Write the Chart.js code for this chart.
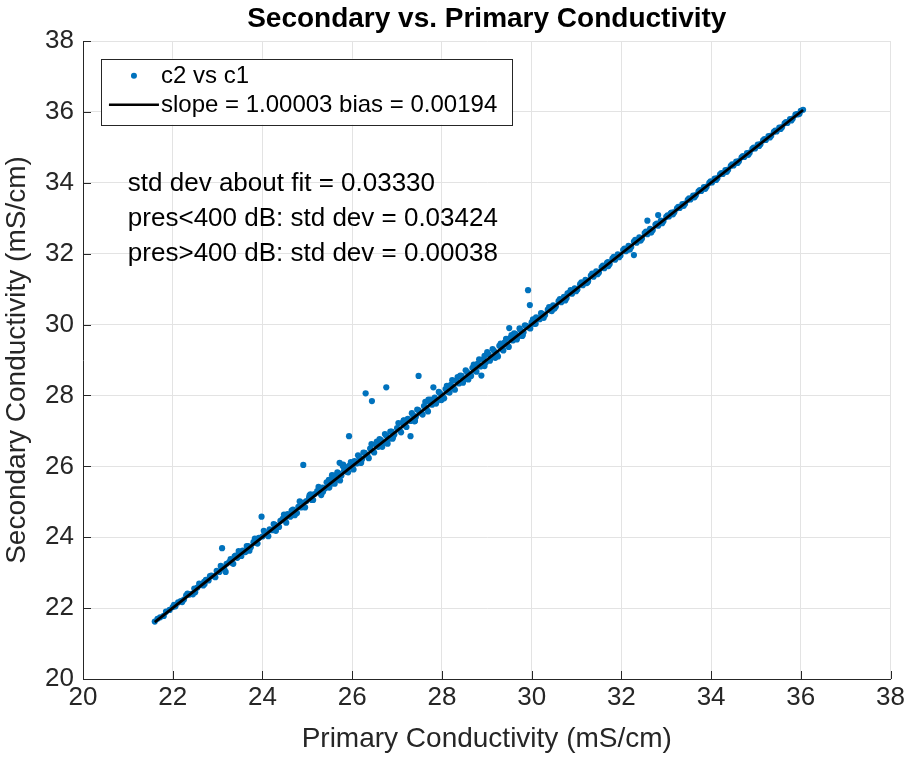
<!DOCTYPE html>
<html>
  <head>
    <script src="https://cdn.jsdelivr.net/npm/chart.js"></script>
    <style>
      body { margin: 0; background: #fff; }
      #wrap { width: 908px; height: 757px; }
    </style>
  </head>
  <body>
    <div id="wrap">
      <canvas id="Chart" width="908" height="757"></canvas>
    </div>
    <script>
      const chartTitle = "Secondary vs. Primary Conductivity";
      const xTitle = "Primary Conductivity (mS/cm)";
      const yTitle = "Secondary Conductivity (mS/cm)";
      const axisMin = 20;
      const axisMax = 38;
      const tickStep = 2;

      const slope = 1.00003;
      const bias = 0.00194;
      const notes = [
        "std dev about fit = 0.03330",
        "pres<400 dB: std dev = 0.03424",
        "pres>400 dB: std dev = 0.00038",
      ];
      const legendLabels = ["c2 vs c1", "slope = 1.00003 bias = 0.00194"];

      // primary conductivity (x)
      const c1 = [
        21.60, 21.66, 21.72, 21.80, 21.85, 21.93, 22.00, 22.06, 22.12, 22.18,
        22.25, 22.30, 22.36, 22.42, 22.48, 22.50, 22.55, 22.62, 22.68, 22.74,
        22.80, 22.86, 22.92, 22.98, 23.04, 23.10, 23.10, 23.18, 23.20, 23.26,
        23.32, 23.38, 23.44, 23.50, 23.56, 23.62, 23.68, 23.74, 23.80, 23.86,
        23.92, 23.98, 24.00, 24.05, 24.10, 24.16, 24.22, 24.28, 24.34, 24.40,
        24.45, 24.50, 24.56, 24.62, 24.68, 24.74, 24.80, 24.86, 24.91, 24.92,
        24.98, 25.04, 25.10, 25.16, 25.22, 25.28, 25.34, 25.40, 25.46, 25.52,
        25.58, 25.64, 25.70, 25.72, 25.76, 25.80, 25.82, 25.88, 25.93, 25.94,
        26.00, 26.05, 26.10, 26.16, 26.22, 26.28, 26.30, 26.34, 26.40, 26.44,
        26.46, 26.52, 26.58, 26.64, 26.70, 26.76, 26.76, 26.82, 26.88, 26.94,
        27.00, 27.06, 27.12, 27.18, 27.24, 27.30, 27.30, 27.36, 27.42, 27.48,
        27.48, 27.54, 27.60, 27.66, 27.72, 27.78, 27.81, 27.84, 27.90, 27.96,
        28.02, 28.08, 28.14, 28.20, 28.26, 28.32, 28.38, 28.44, 28.50, 28.56,
        28.62, 28.68, 28.74, 28.80, 28.86, 28.88, 28.92, 28.98, 29.04, 29.10,
        29.16, 29.22, 29.28, 29.34, 29.40, 29.46, 29.50, 29.52, 29.58, 29.64,
        29.70, 29.76, 29.82, 29.88, 29.92, 29.94, 29.96, 30.00, 30.06, 30.12,
        30.18, 30.24, 30.30, 30.36, 30.42, 30.48, 30.54, 30.60, 30.66, 30.72,
        30.78, 30.84, 30.90, 30.96, 31.02, 31.08, 31.14, 31.20, 31.26, 31.32,
        31.38, 31.44, 31.50, 31.56, 31.62, 31.68, 31.74, 31.80, 31.86, 31.92,
        31.98, 32.04, 32.10, 32.16, 32.22, 32.28, 32.28, 32.34, 32.40, 32.46,
        32.52, 32.58, 32.58, 32.64, 32.70, 32.76, 32.82, 32.82, 32.88, 32.94,
        33.00, 33.06, 33.12, 33.18, 33.24, 33.30, 33.36, 33.42, 33.48, 33.54,
        33.60, 33.66, 33.72, 33.78, 33.84, 33.90, 33.96, 34.02, 34.08, 34.14,
        34.20, 34.26, 34.32, 34.38, 34.44, 34.50, 34.56, 34.62, 34.68, 34.74,
        34.80, 34.86, 34.92, 34.98, 35.04, 35.10, 35.16, 35.22, 35.28, 35.34,
        35.40, 35.46, 35.52, 35.58, 35.64, 35.70, 35.76, 35.82, 35.88, 35.94,
        36.00, 36.05,
        24.30, 24.72, 25.05, 25.35, 25.60, 25.85, 26.20, 26.55, 26.90, 27.15,
        27.40, 27.70, 28.05, 28.35, 28.65, 28.95, 29.25, 29.55, 29.80, 30.10,
        30.45, 30.80, 31.25, 31.70, 32.15, 32.66, 33.10, 23.40, 22.70, 25.48,
        22.03, 22.21, 22.33, 22.45, 22.59, 22.71, 22.83, 22.95, 23.07, 23.15,
        23.29, 23.35, 23.47, 23.53, 23.65, 23.71, 23.83, 23.89, 24.03, 24.13,
        24.25, 24.37, 24.48, 24.53, 24.65, 24.77, 24.83, 24.95, 25.07, 25.13,
        25.25, 25.31, 25.43, 25.49, 25.55, 25.61, 25.67, 25.73, 25.79, 25.91,
        25.97, 26.03, 26.13, 26.19, 26.25, 26.37, 26.43, 26.49, 26.61, 26.67,
        26.73, 26.79, 26.85, 26.91, 27.03, 27.09, 27.15, 27.21, 27.33, 27.39,
        27.45, 27.57, 27.63, 27.69, 27.75, 27.87, 27.93, 27.99, 28.11, 28.17,
        28.23, 28.29, 28.41, 28.47, 28.53, 28.59, 28.71, 28.77, 28.83, 28.95,
        29.01, 29.07, 29.13, 29.19, 29.31, 29.37, 29.43, 29.49, 29.61, 29.67,
        29.73, 29.79, 29.85, 29.97, 30.03, 30.09, 30.21, 30.27, 30.39, 30.51,
        30.63, 30.75, 30.87, 30.99, 31.11, 31.23, 31.35, 31.47, 31.59, 31.71,
        31.83, 31.95, 32.07, 32.19, 32.31, 32.43, 32.55, 32.67, 32.79, 32.91,
        33.03, 33.15, 33.27, 33.39, 33.51, 33.63, 33.75, 33.87, 33.99, 34.11,
        34.23, 34.35, 34.47, 34.59, 34.71, 34.83, 34.95, 35.07, 35.19, 35.31,
        35.43, 35.55, 35.67, 35.79, 35.91, 35.97,
      ];

      // secondary conductivity (y)
      const c2 = [
        21.62, 21.70, 21.74, 21.78, 21.90, 21.95, 22.03, 22.05, 22.16, 22.20,
        22.24, 22.36, 22.38, 22.40, 22.55, 22.45, 22.58, 22.66, 22.64, 22.80,
        22.78, 22.92, 22.90, 23.05, 23.02, 23.69, 23.15, 23.02, 23.25, 23.30,
        23.28, 23.46, 23.42, 23.55, 23.62, 23.58, 23.75, 23.72, 23.86, 23.84,
        23.98, 24.58, 24.02, 24.12, 24.08, 24.22, 24.20, 24.35, 24.30, 24.46,
        24.52, 24.48, 24.65, 24.58, 24.78, 24.70, 24.86, 24.84, 26.04, 24.98,
        25.02, 25.12, 25.05, 25.22, 25.30, 25.25, 25.40, 25.38, 25.55, 25.50,
        25.66, 25.62, 25.80, 26.10, 25.74, 26.05, 25.88, 25.85, 26.85, 26.02,
        25.98, 26.15, 26.08, 26.25, 26.20, 26.38, 28.06, 26.30, 26.50, 27.84,
        26.44, 26.62, 26.55, 26.74, 26.66, 28.23, 26.86, 26.78, 26.98, 26.90,
        27.08, 27.02, 27.22, 27.15, 27.34, 26.85, 27.28, 27.44, 27.40, 28.55,
        27.58, 27.50, 27.70, 27.62, 27.82, 27.74, 28.23, 27.94, 27.86, 28.06,
        27.98, 28.18, 28.10, 28.30, 28.22, 28.42, 28.34, 28.55, 28.46, 28.66,
        28.58, 28.78, 28.70, 28.90, 28.82, 28.56, 29.02, 28.94, 29.16, 29.06,
        29.26, 29.18, 29.40, 29.30, 29.50, 29.42, 29.90, 29.62, 29.55, 29.74,
        29.66, 29.84, 29.78, 29.96, 30.97, 29.92, 30.55, 30.06, 30.02, 30.18,
        30.15, 30.30, 30.27, 30.42, 30.40, 30.54, 30.51, 30.66, 30.63, 30.78,
        30.75, 30.90, 30.87, 31.02, 30.99, 31.14, 31.11, 31.26, 31.23, 31.38,
        31.35, 31.50, 31.47, 31.62, 31.59, 31.74, 31.71, 31.86, 31.83, 31.98,
        31.95, 32.10, 32.07, 32.22, 32.19, 31.96, 32.34, 32.31, 32.46, 32.43,
        32.58, 32.93, 32.55, 32.70, 32.67, 32.82, 33.09, 32.79, 32.93, 32.92,
        33.04, 33.05, 33.16, 33.17, 33.28, 33.29, 33.40, 33.41, 33.52, 33.53,
        33.64, 33.65, 33.76, 33.77, 33.88, 33.89, 34.00, 34.01, 34.12, 34.13,
        34.24, 34.25, 34.36, 34.37, 34.48, 34.49, 34.60, 34.61, 34.72, 34.73,
        34.84, 34.85, 34.96, 34.97, 35.08, 35.09, 35.20, 35.21, 35.32, 35.33,
        35.44, 35.45, 35.56, 35.57, 35.68, 35.69, 35.80, 35.81, 35.92, 35.93,
        36.03, 36.06,
        24.18, 24.62, 25.18, 25.28, 25.74, 25.98, 26.10, 26.70, 26.78, 27.30,
        27.28, 27.88, 27.92, 28.52, 28.55, 29.12, 29.10, 29.70, 29.70, 30.20,
        30.38, 30.88, 31.20, 31.76, 32.12, 32.60, 33.14, 23.48, 22.74, 25.62,
        22.09, 22.17, 22.41, 22.39, 22.69, 22.68, 22.90, 22.87, 23.19, 23.10,
        23.38, 23.25, 23.61, 23.47, 23.75, 23.62, 23.96, 23.82, 24.18, 24.03,
        24.37, 24.29, 24.64, 24.41, 24.75, 24.68, 25.01, 24.84, 25.21, 25.05,
        25.42, 25.19, 25.55, 25.40, 25.75, 25.51, 25.83, 25.60, 26.01, 25.83,
        26.12, 25.91, 26.31, 26.10, 26.39, 26.23, 26.63, 26.39, 26.77, 26.55,
        26.91, 26.64, 26.98, 26.82, 27.22, 26.96, 27.29, 27.11, 27.50, 27.27,
        27.60, 27.46, 27.82, 27.55, 27.88, 27.77, 28.10, 27.87, 28.27, 28.08,
        28.43, 28.16, 28.56, 28.36, 28.71, 28.45, 28.87, 28.67, 29.02, 28.83,
        29.22, 28.98, 29.31, 29.06, 29.46, 29.27, 29.60, 29.37, 29.75, 29.58,
        29.89, 29.68, 29.98, 29.89, 30.15, 30.02, 30.32, 30.19, 30.49, 30.45,
        30.72, 30.68, 30.97, 30.94, 31.19, 31.17, 31.44, 31.42, 31.66, 31.65,
        31.91, 31.90, 32.14, 32.12, 32.39, 32.37, 32.62, 32.61, 32.85, 32.86,
        33.08, 33.11, 33.32, 33.35, 33.56, 33.59, 33.79, 33.83, 34.04, 34.08,
        34.27, 34.31, 34.52, 34.56, 34.75, 34.79, 34.99, 35.04, 35.23, 35.28,
        35.47, 35.52, 35.71, 35.76, 35.94, 35.95,
      ];

      const points = c1.map((x, i) => ({ x: x, y: c2[i] }));
      const fitX = [Math.min(...c1), Math.max(...c1)];
      const fitLine = fitX.map((x) => ({ x: x, y: slope * x + bias }));

      const FONT = "'Liberation Sans', Arial, Helvetica, sans-serif";
      const BLUE = "#0072BD";
      const AXIS = "#262626";

      const extras = {
        id: "extras",
        afterDraw(chart) {
          const ctx = chart.ctx;
          const xs = chart.scales.x;
          const ys = chart.scales.y;
          const area = chart.chartArea;
          ctx.save();

          // inward tick marks (MATLAB style)
          ctx.strokeStyle = AXIS;
          ctx.lineWidth = 1;
          ctx.beginPath();
          for (let v = axisMin; v <= axisMax; v += tickStep) {
            const px = Math.round(xs.getPixelForValue(v)) + 0.5;
            ctx.moveTo(px, area.bottom);
            ctx.lineTo(px, area.bottom - 8);
            const py = Math.round(ys.getPixelForValue(v)) + 0.5;
            ctx.moveTo(area.left, py);
            ctx.lineTo(area.left + 8, py);
          }
          ctx.stroke();

          // title
          ctx.fillStyle = "#000";
          ctx.font = "bold 28px " + FONT;
          ctx.textAlign = "center";
          ctx.textBaseline = "middle";
          ctx.fillText(chartTitle, (area.left + area.right) / 2, 19);

          // legend box
          const lx = xs.getPixelForValue(20.4);
          const ly = ys.getPixelForValue(37.5);
          const lw = 411;
          const lh = 66;
          ctx.fillStyle = "#fff";
          ctx.fillRect(lx, ly, lw, lh);
          ctx.strokeStyle = AXIS;
          ctx.strokeRect(Math.round(lx) + 0.5, Math.round(ly) + 0.5, lw, lh);

          ctx.fillStyle = BLUE;
          ctx.beginPath();
          ctx.arc(lx + 33, ly + 17, 3, 0, Math.PI * 2);
          ctx.fill();
          ctx.strokeStyle = "#000";
          ctx.lineWidth = 2.5;
          ctx.beginPath();
          ctx.moveTo(lx + 8, ly + 46);
          ctx.lineTo(lx + 58, ly + 46);
          ctx.stroke();

          ctx.fillStyle = "#000";
          ctx.font = "24px " + FONT;
          ctx.textAlign = "left";
          ctx.fillText(legendLabels[0], lx + 60, ly + 18);
          ctx.fillText(legendLabels[1], lx + 60, ly + 47);

          // statistics notes
          ctx.font = "26px " + FONT;
          const nx = xs.getPixelForValue(21);
          notes.forEach((t, i) => {
            ctx.fillText(t, nx, ys.getPixelForValue(34) + i * 35 + 1);
          });
          ctx.restore();
        },
      };

      const axisCommon = {
        type: "linear",
        min: axisMin,
        max: axisMax,
        grid: { color: "#e3e3e3", drawTicks: false },
        border: { color: AXIS, width: 1 },
      };

      new Chart(document.getElementById("Chart"), {
        type: "scatter",
        data: {
          datasets: [
            {
              label: legendLabels[1],
              data: fitLine,
              type: "line",
              showLine: true,
              borderColor: "#000",
              borderWidth: 2.8,
              pointRadius: 0,
              order: 0,
            },
            {
              label: legendLabels[0],
              data: points,
              backgroundColor: BLUE,
              borderWidth: 0,
              pointRadius: 3.1,
              order: 1,
            },
          ],
        },
        options: {
          responsive: false,
          animation: false,
          layout: { padding: { top: 41, right: 16, left: 0, bottom: 0 } },
          plugins: {
            legend: { display: false },
            title: { display: false },
            tooltip: { enabled: false },
          },
          scales: {
            x: {
              ...axisCommon,
              position: "bottom",
              ticks: {
                stepSize: tickStep,
                padding: 3,
                color: AXIS,
                font: { family: FONT, size: 26 },
              },
              title: {
                display: true,
                text: xTitle,
                color: AXIS,
                padding: { top: 0, bottom: 1 },
                font: { family: FONT, size: 28 },
              },
              afterFit: (s) => { s.height = 78; },
            },
            y: {
              ...axisCommon,
              position: "left",
              ticks: {
                stepSize: tickStep,
                padding: 9,
                color: AXIS,
                font: { family: FONT, size: 26 },
              },
              title: {
                display: true,
                text: yTitle,
                color: AXIS,
                padding: { top: 0, bottom: 6 },
                font: { family: FONT, size: 28 },
              },
              afterFit: (s) => { s.width = 83; },
            },
          },
        },
        plugins: [extras],
      });
    </script>
  </body>
</html>
